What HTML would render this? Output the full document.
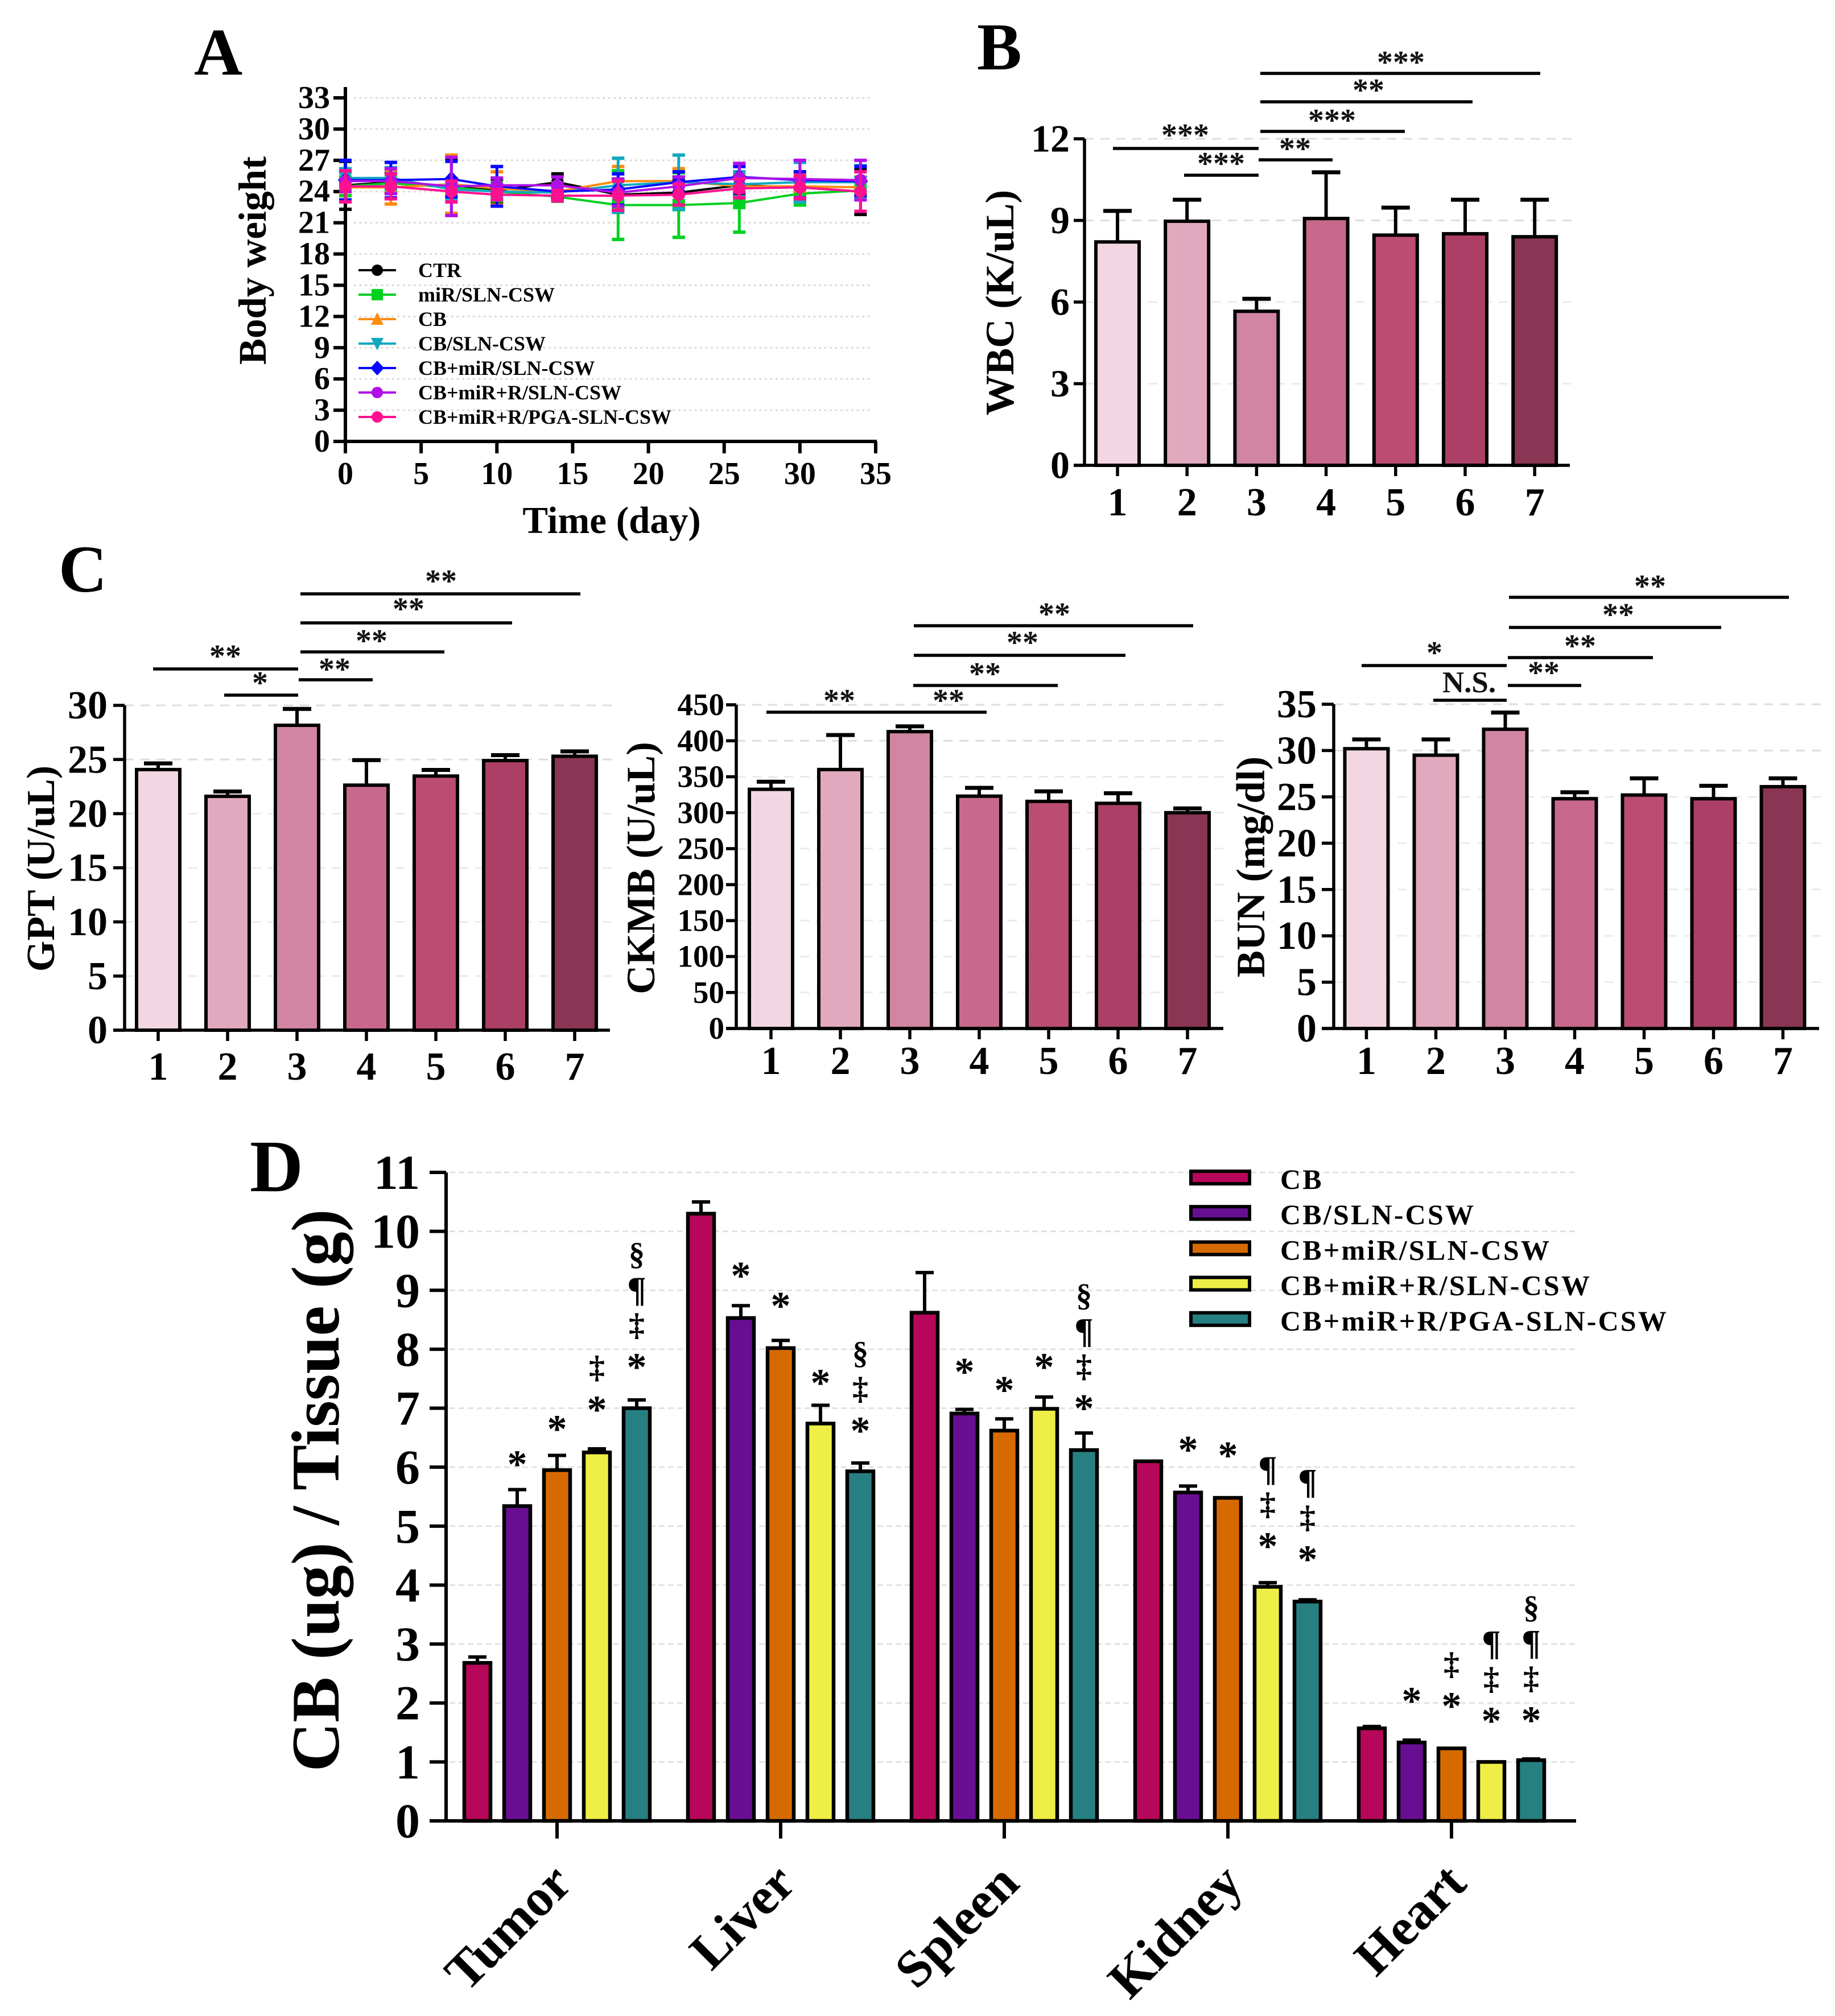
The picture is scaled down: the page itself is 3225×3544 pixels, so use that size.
<!DOCTYPE html>
<html lang="en">
<head>
<meta charset="utf-8">
<title>Body weight, blood markers and CB tissue distribution</title>
<style>
html,body{margin:0;padding:0;background:#fff;}
svg{display:block;font-family:"Liberation Serif",serif;font-weight:bold;}
line.sig{stroke:#000;stroke-width:5.5;}
text.star{font-size:56px;text-anchor:middle;fill:#111;}
text.letter{fill:#000;}
</style>
</head>
<body>
<svg id="figure" xmlns="http://www.w3.org/2000/svg" width="3225" height="3544" viewBox="0 0 3225 3544">
<rect width="3225" height="3544" fill="#fff"/>
<g id="panelA"></g>
<g id="panelB"></g>
<g id="panelC1"></g>
<g id="panelC2"></g>
<g id="panelC3"></g>
<g id="panelD"></g>

<text class="letter" x="341" y="131" font-size="118">A</text>
<text class="letter" x="1717" y="122" font-size="118">B</text>
<text class="letter" x="103" y="1040" font-size="118">C</text>
<text class="letter" x="439" y="2094" font-size="130">D</text>

<g>
<line class="sig" x1="2215" x2="2707" y1="129" y2="129"/>
<text class="star" x="2462" y="128">***</text>
<line class="sig" x1="2215" x2="2588" y1="179" y2="179"/>
<text class="star" x="2405" y="177">**</text>
<line class="sig" x1="2215" x2="2469" y1="231" y2="231"/>
<text class="star" x="2341" y="230">***</text>
<line class="sig" x1="2212" x2="2342" y1="281" y2="281"/>
<text class="star" x="2276" y="280">**</text>
<line class="sig" x1="1956" x2="2212" y1="261" y2="261"/>
<text class="star" x="2083" y="256">***</text>
<line class="sig" x1="2081" x2="2212" y1="308" y2="308"/>
<text class="star" x="2146" y="306">***</text>
</g>

<g>
<line class="sig" x1="528" x2="1020" y1="1044" y2="1044"/>
<text class="star" x="775" y="1040">**</text>
<line class="sig" x1="528" x2="900" y1="1095" y2="1095"/>
<text class="star" x="718" y="1089">**</text>
<line class="sig" x1="528" x2="781" y1="1146" y2="1146"/>
<text class="star" x="653" y="1145">**</text>
<line class="sig" x1="525" x2="655" y1="1195" y2="1195"/>
<text class="star" x="588" y="1195">**</text>
<line class="sig" x1="269" x2="524" y1="1176" y2="1176"/>
<text class="star" x="396" y="1172">**</text>
<line class="sig" x1="394" x2="524" y1="1222" y2="1222"/>
<text class="star" x="457" y="1219">*</text>
</g>

<g>
<line class="sig" x1="1606" x2="2097" y1="1100" y2="1100"/>
<text class="star" x="1853" y="1098">**</text>
<line class="sig" x1="1606" x2="1978" y1="1152" y2="1152"/>
<text class="star" x="1797" y="1148">**</text>
<line class="sig" x1="1605" x2="1859" y1="1205" y2="1205"/>
<text class="star" x="1731" y="1203">**</text>
<line class="sig" x1="1603" x2="1734" y1="1252" y2="1252"/>
<text class="star" x="1667" y="1250">**</text>
<line class="sig" x1="1347" x2="1603" y1="1252" y2="1252"/>
<text class="star" x="1475" y="1250">**</text>
</g>

<g>
<line class="sig" x1="2652" x2="3144" y1="1050" y2="1050"/>
<text class="star" x="2900" y="1049">**</text>
<line class="sig" x1="2652" x2="3025" y1="1103" y2="1103"/>
<text class="star" x="2844" y="1099">**</text>
<line class="sig" x1="2650" x2="2905" y1="1156" y2="1156"/>
<text class="star" x="2777" y="1154">**</text>
<line class="sig" x1="2650" x2="2779" y1="1205" y2="1205"/>
<text class="star" x="2713" y="1201">**</text>
<line class="sig" x1="2393" x2="2648" y1="1170" y2="1170"/>
<text class="star" x="2521" y="1166">*</text>
<line class="sig" x1="2519" x2="2648" y1="1231" y2="1231"/>
<text x="2582" y="1217" font-size="53" text-anchor="middle" fill="#111">N.S.</text>
</g>
</svg>

<script>
// Panel A: body weight over time
const timeDays = [0, 3, 7, 10, 14, 18, 22, 26, 30, 34];
const ctrWeight = [24.6, 24.9, 24.5, 24.1, 24.9, 23.7, 23.9, 24.6, 24.4, 24.0];
const ctrError = [2.3, 1.0, 2.6, 1.1, 0.8, 1.5, 1.2, 0.8, 1.4, 2.2];
const mirWeight = [24.5, 24.8, 24.4, 24.0, 23.5, 22.7, 22.7, 22.9, 23.8, 24.1];
const mirError = [0.9, 0.8, 0.8, 0.9, 0.4, 3.3, 3.1, 2.8, 1.1, 0.8];
const cbWeight = [24.4, 24.4, 24.7, 24.3, 24.0, 25.0, 25.0, 24.5, 24.5, 24.4];
const cbError = [1.4, 1.6, 2.8, 1.6, 0.8, 1.4, 1.2, 1.0, 1.3, 1.0];
const cbSlnWeight = [25.3, 25.3, 24.2, 24.0, 23.9, 24.6, 24.9, 24.7, 24.9, 24.9];
const cbSlnError = [0.9, 1.0, 1.0, 0.6, 0.5, 2.6, 2.6, 1.2, 1.9, 1.6];
const cbMirWeight = [25.1, 25.1, 25.2, 24.5, 24.0, 24.2, 24.9, 25.4, 25.1, 25.0];
const cbMirError = [1.9, 1.7, 1.7, 1.9, 0.7, 1.5, 1.0, 1.0, 0.8, 1.4];
const cbMirRWeight = [25.0, 25.0, 24.5, 24.6, 24.6, 23.9, 24.5, 25.3, 25.2, 25.1];
const cbMirRError = [1.0, 1.2, 2.8, 0.7, 0.8, 1.3, 0.9, 1.4, 1.8, 1.9];
const pgaWeight = [24.5, 24.5, 24.0, 23.7, 23.6, 23.6, 23.7, 24.3, 24.4, 24.0];
const pgaError = [1.5, 1.2, 1.0, 0.5, 0.5, 1.4, 1.0, 0.9, 1.1, 1.9];
const weightSeriesNames = ["CTR", "miR/SLN-CSW", "CB", "CB/SLN-CSW", "CB+miR/SLN-CSW", "CB+miR+R/SLN-CSW", "CB+miR+R/PGA-SLN-CSW"];
const weightTicks = [0, 3, 6, 9, 12, 15, 18, 21, 24, 27, 30, 33];
const timeTicks = [0, 5, 10, 15, 20, 25, 30, 35];

// Panels B and C: seven-group bars
const groupLabels = ["1", "2", "3", "4", "5", "6", "7"];
const wbcValues = [8.21, 8.97, 5.66, 9.07, 8.46, 8.51, 8.40];
const wbcErrors = [1.14, 0.79, 0.46, 1.70, 1.01, 1.25, 1.36];
const wbcTicks = [0, 3, 6, 9, 12];
const gptValues = [24.07, 21.6, 28.16, 22.63, 23.47, 24.9, 25.3];
const gptErrors = [0.57, 0.45, 1.51, 2.31, 0.57, 0.5, 0.45];
const gptTicks = [0, 5, 10, 15, 20, 25, 30];
const ckmbValues = [332.5, 360, 412.7, 323, 315.7, 313, 300];
const ckmbErrors = [10.5, 48, 7.3, 11.5, 14, 14, 6];
const ckmbTicks = [0, 50, 100, 150, 200, 250, 300, 350, 400, 450];
const bunValues = [30.2, 29.5, 32.3, 24.8, 25.2, 24.8, 26.1];
const bunErrors = [1.0, 1.7, 1.8, 0.7, 1.8, 1.4, 0.9];
const bunTicks = [0, 5, 10, 15, 20, 25, 30, 35];

// Panel D: CB tissue distribution
const organs = ["Tumor", "Liver", "Spleen", "Kidney", "Heart"];
const tissueSeriesNames = ["CB", "CB/SLN-CSW", "CB+miR/SLN-CSW", "CB+miR+R/SLN-CSW", "CB+miR+R/PGA-SLN-CSW"];
const tissueCb = [2.68, 10.3, 8.62, 6.1, 1.57];
const tissueCbError = [0.1, 0.2, 0.68, 0, 0.03];
const tissueSln = [5.34, 8.53, 6.91, 5.57, 1.33];
const tissueSlnError = [0.28, 0.21, 0.07, 0.11, 0.04];
const tissueMir = [5.95, 8.02, 6.62, 5.48, 1.23];
const tissueMirError = [0.25, 0.13, 0.2, 0, 0];
const tissueMirR = [6.25, 6.74, 6.99, 3.97, 1.0];
const tissueMirRError = [0.06, 0.31, 0.2, 0.07, 0];
const tissuePga = [7.0, 5.93, 6.29, 3.72, 1.03];
const tissuePgaError = [0.14, 0.14, 0.29, 0.03, 0.02];
const tissueTicks = [0, 1, 2, 3, 4, 5, 6, 7, 8, 9, 10, 11];
// Significance symbols: organ index, bar index, level of the lowest symbol (axis units), symbols bottom to top
const tissueMarkOrgan = [0, 0, 0, 0, 1, 1, 1, 1, 2, 2, 2, 2, 3, 3, 3, 3, 4, 4, 4, 4];
const tissueMarkBar = [1, 2, 3, 4, 1, 2, 3, 4, 1, 2, 3, 4, 1, 2, 3, 4, 1, 2, 3, 4];
const tissueMarkLevel = [6.14, 6.74, 7.07, 7.79, 9.34, 8.83, 7.52, 6.71, 7.71, 7.4, 7.79, 7.09, 6.39, 6.29, 4.75, 4.53, 2.13, 2.04, 1.79, 1.80];
const tissueMarkSymbols = ["*", "*", "*‡", "*‡¶§", "*", "*", "*", "*‡§", "*", "*", "*", "*‡¶§", "*", "*", "*‡¶", "*‡¶", "*", "*‡", "*‡¶", "*‡¶§"];

const NS = "http://www.w3.org/2000/svg";
const pinkShades = ["#f2d6e1", "#e1a9bd", "#d285a3", "#c7688c", "#bb4d73", "#ab3f66", "#8a3553"];
const tissueColors = ["#b7075a", "#680e93", "#d66a00", "#eeee47", "#268082"];
const weightColors = ["#000000", "#00d020", "#ff8c10", "#10a8c0", "#0808ff", "#b010e8", "#ff1090"];
const weightShapes = ["circle", "square", "up", "down", "diamond", "circle", "circle"];

function drawLine(parent, name, x1, y1, x2, y2, color, width, dash) {
  const el = document.createElementNS(NS, "line");
  
  
  el.setAttribute("x1", x1);
  el.setAttribute("y1", y1);
  el.setAttribute("x2", x2);
  el.setAttribute("y2", y2);
  el.setAttribute("stroke", color);
  el.setAttribute("stroke-width", width);
  if (dash) el.setAttribute("stroke-dasharray", dash);
  parent.appendChild(el);
  return el;
}

function drawText(parent, name, str, x, y, size, anchor, rotate, spacing) {
  const el = document.createElementNS(NS, "text");
  
  
  el.setAttribute("x", x);
  el.setAttribute("y", y);
  el.setAttribute("font-size", size);
  el.setAttribute("text-anchor", anchor || "middle");
  el.setAttribute("fill", "#000");
  if (rotate) el.setAttribute("transform", "rotate(" + rotate + " " + x + " " + y + ")");
  if (spacing) el.setAttribute("letter-spacing", spacing);
  el.textContent = str;
  parent.appendChild(el);
  return el;
}

function drawRect(parent, name, x, y, w, h, fill, strokeWidth) {
  const el = document.createElementNS(NS, "rect");
  
  
  el.setAttribute("x", x);
  el.setAttribute("y", y);
  el.setAttribute("width", w);
  el.setAttribute("height", h);
  el.setAttribute("fill", fill);
  el.setAttribute("stroke", "#000");
  el.setAttribute("stroke-width", strokeWidth);
  parent.appendChild(el);
  return el;
}

function drawMarker(parent, name, shape, cx, cy, r, color) {
  let el;
  if (shape === "circle") {
    el = document.createElementNS(NS, "circle");
    el.setAttribute("cx", cx);
    el.setAttribute("cy", cy);
    el.setAttribute("r", r);
  } else if (shape === "square") {
    el = document.createElementNS(NS, "rect");
    el.setAttribute("x", cx - r);
    el.setAttribute("y", cy - r);
    el.setAttribute("width", 2 * r);
    el.setAttribute("height", 2 * r);
  } else {
    el = document.createElementNS(NS, "polygon");
    let pts;
    if (shape === "up") pts = [[cx, cy - r * 1.2], [cx + r * 1.1, cy + r], [cx - r * 1.1, cy + r]];
    else if (shape === "down") pts = [[cx, cy + r * 1.2], [cx + r * 1.1, cy - r], [cx - r * 1.1, cy - r]];
    else pts = [[cx, cy - r * 1.3], [cx + r * 1.2, cy], [cx, cy + r * 1.3], [cx - r * 1.2, cy]];
    el.setAttribute("points", pts.map(p => p.join(",")).join(" "));
  }
  
  
  el.setAttribute("fill", color);
  parent.appendChild(el);
  return el;
}

// ---------- Panel A ----------
(function () {
  const g = document.getElementById("panelA");
  const x = d => 607 + d * (932 / 35);
  const y = v => 776 - v * (604 / 33);
  const seriesMeans = [ctrWeight, mirWeight, cbWeight, cbSlnWeight, cbMirWeight, cbMirRWeight, pgaWeight];
  const seriesErrors = [ctrError, mirError, cbError, cbSlnError, cbMirError, cbMirRError, pgaError];

  weightTicks.forEach(t => {
    if (t > 0) drawLine(g, "gridline", 622, y(t), 1530, y(t), "#dcdcdc", 3, "4 5.5");
  });
  drawLine(g, "y-axis-line", 607, 153, 607, 779, "#000", 6);
  drawLine(g, "x-axis-line", 586, 776, 1541, 776, "#000", 6);
  weightTicks.forEach(t => {
    drawLine(g, "y-tick", 586, y(t), 607, y(t), "#000", 6);
    drawText(g, "y-tick-label", String(t), 580, y(t) + 18, 56, "end");
  });
  timeTicks.forEach(t => {
    drawLine(g, "x-tick", x(t), 776, x(t), 797, "#000", 6);
    drawText(g, "x-tick-label", String(t), x(t), 851, 56);
  });
  drawText(g, "y-axis-title", "Body weight", 467, 458, 69, "middle", -90);
  drawText(g, "x-axis-title", "Time (day)", 1075, 937, 67);

  seriesMeans.forEach((means, s) => {
    const c = weightColors[s];
    const name = "series-" + s;
    const path = document.createElementNS(NS, "polyline");
    
    
    path.setAttribute("points", means.map((v, i) => x(timeDays[i]) + "," + y(v)).join(" "));
    path.setAttribute("fill", "none");
    path.setAttribute("stroke", c);
    path.setAttribute("stroke-width", 4);
    g.appendChild(path);
    means.forEach((v, i) => {
      const px = x(timeDays[i]);
      const e = seriesErrors[s][i];
      drawLine(g, name + "-error-bar", px, y(v + e), px, y(v - e), c, 5);
      drawLine(g, name + "-error-cap", px - 11, y(v + e), px + 11, y(v + e), c, 6);
      drawLine(g, name + "-error-cap", px - 11, y(v - e), px + 11, y(v - e), c, 6);
      drawMarker(g, name + "-point", weightShapes[s], px, y(v), 11, c);
    });
  });

  weightSeriesNames.forEach((label, i) => {
    const ly = 475 + i * 43;
    drawLine(g, "legend-line", 630, ly, 696, ly, weightColors[i], 4);
    drawMarker(g, "legend-marker", weightShapes[i], 663, ly, 10, weightColors[i]);
    drawText(g, "legend-entry", label, 735, ly + 12, 36, "start");
  });
})();

// ---------- Seven-group bar panels ----------
function barPanel(cfg) {
  const g = document.getElementById(cfg.id);
  const y = v => cfg.y0 - v * (cfg.y0 - cfg.yTop) / cfg.yMax;
  const cx = i => cfg.first + i * cfg.step;
  cfg.ticks.forEach((t, k) => {
    if (t > 0) {
      const strong = k >= cfg.ticks.length - 2;
      drawLine(g, "gridline", cfg.axisX, y(t), cfg.xRight + 3, y(t), strong ? "#dedede" : "#ebebeb", 3, "16 12");
    }
  });
  cfg.values.forEach((v, i) => {
    const top = y(v + cfg.errors[i]);
    drawLine(g, "error-bar", cx(i), y(v), cx(i), top, "#000", 6);
    drawLine(g, "error-cap", cx(i) - 25, top, cx(i) + 25, top, "#000", 7);
    drawRect(g, "bar-group-" + groupLabels[i], cx(i) - 38, y(v), 76, cfg.y0 - y(v), pinkShades[i], 6);
  });
  drawLine(g, "y-axis-line", cfg.axisX, cfg.yTop, cfg.axisX, cfg.y0, "#000", 5.5);
  drawLine(g, "x-axis-line", cfg.xLeft, cfg.y0, cfg.xRight, cfg.y0, "#000", 5.5);
  cfg.ticks.forEach(t => {
    drawLine(g, "y-tick", cfg.xLeft, y(t), cfg.axisX, y(t), "#000", 5.5);
    drawText(g, "y-tick-label", String(t), cfg.labelRight, y(t) + cfg.tickSize * 0.33, cfg.tickSize, "end");
  });
  groupLabels.forEach((l, i) => {
    drawLine(g, "x-tick", cx(i), cfg.y0, cx(i), cfg.y0 + 19, "#000", 5.5);
    drawText(g, "x-tick-label", l, cx(i), cfg.xLabelY, 70);
  });
  drawText(g, "y-axis-title", cfg.title, cfg.titleX, cfg.titleY, cfg.titleSize, "middle", -90);
}

barPanel({ id: "panelB", values: wbcValues, errors: wbcErrors, ticks: wbcTicks, yMax: 12, y0: 818, yTop: 244, axisX: 1906, xLeft: 1887, xRight: 2759, first: 1964, step: 122.2, labelRight: 1880, tickSize: 68, xLabelY: 906, title: "WBC (K/uL)", titleX: 1781, titleY: 532, titleSize: 71 });
barPanel({ id: "panelC1", values: gptValues, errors: gptErrors, ticks: gptTicks, yMax: 30, y0: 1811, yTop: 1240, axisX: 219, xLeft: 199, xRight: 1072, first: 278, step: 122, labelRight: 189, tickSize: 70, xLabelY: 1898, title: "GPT (U/uL)", titleX: 95, titleY: 1527, titleSize: 70 });
barPanel({ id: "panelC2", values: ckmbValues, errors: ckmbErrors, ticks: ckmbTicks, yMax: 450, y0: 1808, yTop: 1239, axisX: 1294, xLeft: 1276, xRight: 2150, first: 1355, step: 122, labelRight: 1273, tickSize: 55, xLabelY: 1888, title: "CKMB (U/uL)", titleX: 1150, titleY: 1526, titleSize: 71 });
barPanel({ id: "panelC3", values: bunValues, errors: bunErrors, ticks: bunTicks, yMax: 35, y0: 1808, yTop: 1238, axisX: 2344, xLeft: 2323, xRight: 3197, first: 2401.5, step: 122, labelRight: 2314, tickSize: 70, xLabelY: 1888, title: "BUN (mg/dl)", titleX: 2222, titleY: 1524, titleSize: 71 });

// ---------- Panel D ----------
(function () {
  const g = document.getElementById("panelD");
  const y = v => 3201 - v * (1140 / 11);
  const organX = i => 979 + i * 393;
  const barX = (o, s) => organX(o) + (s - 2) * 70;
  const means = [tissueCb, tissueSln, tissueMir, tissueMirR, tissuePga];
  const errs = [tissueCbError, tissueSlnError, tissueMirError, tissueMirRError, tissuePgaError];

  tissueTicks.forEach(t => {
    if (t > 0) drawLine(g, "gridline", 790, y(t), 2770, y(t), "#e2e2e2", 3, "10 6");
  });
  means.forEach((series, s) => {
    series.forEach((v, o) => {
      const px = barX(o, s);
      if (errs[s][o] > 0) {
        const top = y(v + errs[s][o]);
        drawLine(g, "error-bar", px, y(v), px, top, "#000", 6);
        drawLine(g, "error-cap", px - 16, top, px + 16, top, "#000", 6);
      }
      drawRect(g, "bar-" + organs[o].toLowerCase() + "-" + s, px - 23, y(v), 46, 3201 - y(v), tissueColors[s], 6.5);
    });
  });
  drawLine(g, "y-axis-line", 784, 2061, 784, 3204, "#000", 6);
  drawLine(g, "x-axis-line", 755, 3201, 2770, 3201, "#000", 6);
  tissueTicks.forEach(t => {
    drawLine(g, "y-tick", 755, y(t), 784, y(t), "#000", 6);
    drawText(g, "y-tick-label", String(t), 738, y(t) + 29, 86, "end");
  });
  organs.forEach((name, o) => {
    drawLine(g, "x-tick", organX(o), 3201, organX(o), 3232, "#000", 6);
    drawText(g, "x-tick-label", name, organX(o) + 30, 3315, 92, "end", -45);
  });
  drawText(g, "y-axis-title", "CB (ug) / Tissue (g)", 595, 2620, 120, "middle", -90);

  tissueMarkSymbols.forEach((syms, k) => {
    const px = barX(tissueMarkOrgan[k], tissueMarkBar[k]);
    Array.from(syms).forEach((ch, j) => {
      const cy = y(tissueMarkLevel[k] + j * 0.6);
      if (ch === "*") drawText(g, "significance-asterisk", ch, px, cy + 33, 70);
      else if (ch === "¶") drawText(g, "significance-symbol", ch, px, cy + 18, 62);
      else drawText(g, "significance-symbol", ch, px, cy + 16, 56);
    });
  });

  tissueSeriesNames.forEach((label, i) => {
    const cy = 2070 + i * 62.2;
    drawRect(g, "legend-swatch", 2093, cy - 11, 103, 22, tissueColors[i], 6);
    drawText(g, "legend-entry", label, 2250, cy + 20, 50, "start", 0, 3.2);
  });
})();
</script>
</body>
</html>
